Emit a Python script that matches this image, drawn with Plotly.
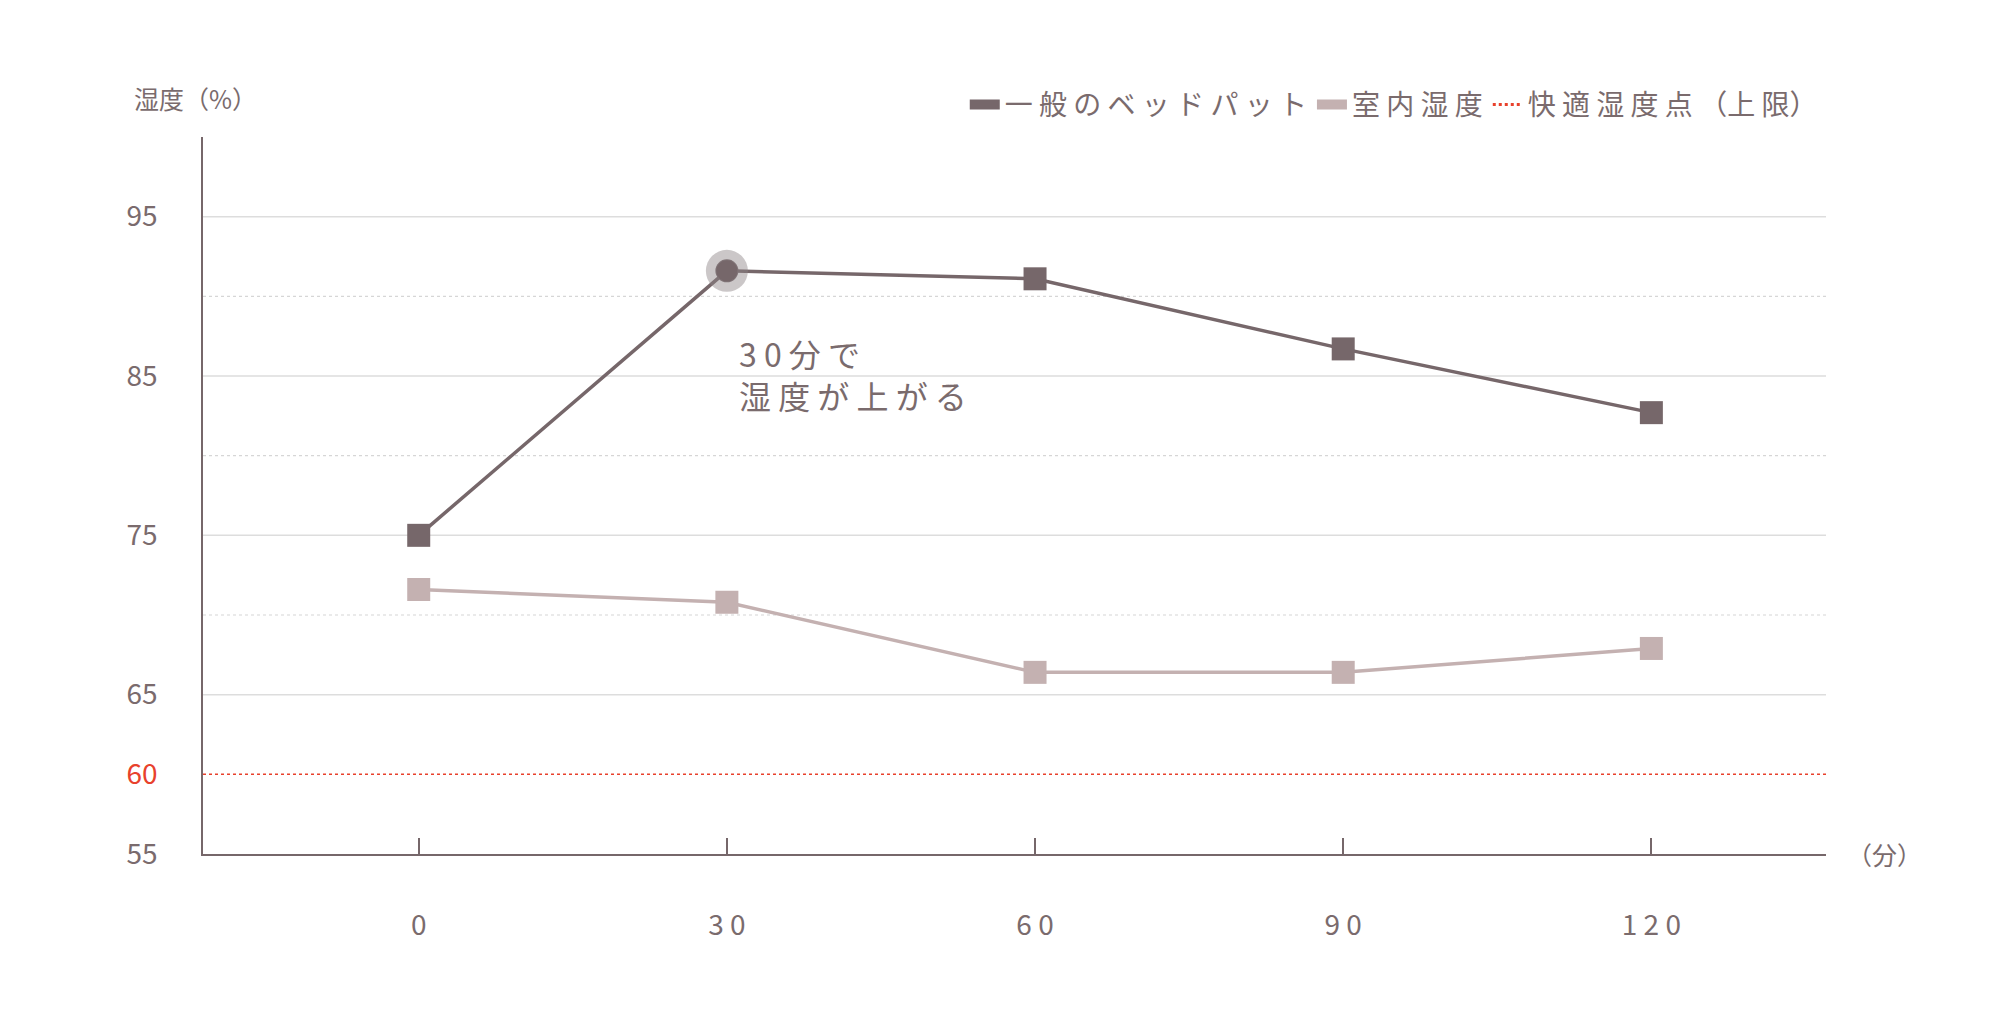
import plotly.graph_objects as go

minutes = [0, 30, 60, 90, 120]
bedpad = [75.0, 91.6, 91.1, 86.7, 82.7]
room = [71.6, 70.8, 66.4, 66.4, 67.9]
comfort_upper = 60
x_span = [-21, 137]
ytick_vals = [55, 60, 65, 75, 85, 95]

DARK = '#76676a'
LIGHT = '#c4b1b1'
RED = '#e8412c'
TXT = '#7a6b6d'
FONT = 'Noto Sans CJK JP'

fig = go.Figure()

# minor dotted grid lines
for v in [70, 80, 90]:
    fig.add_trace(go.Scatter(x=x_span, y=[v, v], mode='lines', showlegend=False,
        hoverinfo='skip', line=dict(color='#d6d6d6', width=1.2, dash='dot')))

fig.add_trace(go.Scatter(x=x_span, y=[comfort_upper]*2, mode='lines', showlegend=False,
    line=dict(color=RED, width=1.5, dash='dot')))

fig.add_trace(go.Scatter(x=minutes, y=room, mode='lines+markers', showlegend=False,
    line=dict(color=LIGHT, width=3.5), marker=dict(symbol='square', size=23, color=LIGHT)))

fig.add_trace(go.Scatter(x=minutes, y=bedpad, mode='lines+markers', showlegend=False,
    line=dict(color=DARK, width=3.5),
    marker=dict(symbol=['square', 'circle', 'square', 'square', 'square'], size=23, color=DARK)))

# highlight halo on the 30-minute point
fig.add_trace(go.Scatter(x=[minutes[1]], y=[bedpad[1]], mode='markers', showlegend=False,
    marker=dict(size=42, color='rgba(140,130,132,0.45)')))
fig.add_trace(go.Scatter(x=[minutes[1]], y=[bedpad[1]], mode='markers', showlegend=False,
    marker=dict(size=21, color=DARK)))

# legend entries
for name, color, dash in [('一 般 の ベ ッ ド パ ッ ト', DARK, 'solid'), ('室 内 湿 度', LIGHT, 'solid'),
                          ('快 適 湿 度 点 （上 限）', RED, 'dot')]:
    fig.add_trace(go.Scatter(x=[None], y=[None], mode='lines', name=name,
        line=dict(color=color, width=10 if dash == 'solid' else 3, dash=dash)))

fig.add_annotation(x=31, y=85.1, xref='x', yref='y', text='3 0 分 で<br>湿 度 が 上 が る',
    showarrow=False, xanchor='left', align='left',
    font=dict(size=32, color=TXT, family=FONT))
fig.add_annotation(x=-0.044, y=1.082, xref='x domain', yref='y domain', text='湿度（%）',
    showarrow=False, font=dict(size=25, color=TXT, family=FONT))
fig.add_annotation(x=1.012, y=0, xref='paper', yref='y domain', text='（分）', showarrow=False,
    xanchor='left', yanchor='middle', font=dict(size=25, color=TXT, family=FONT))

ytick_text = ['<span style="color:%s">%d</span>' % (RED, v) if v == comfort_upper else str(v)
              for v in ytick_vals]

fig.update_layout(
    width=2000, height=1032, plot_bgcolor='white', paper_bgcolor='white',
    margin=dict(l=195, r=182, t=129, b=186),
    font=dict(family=FONT, color=TXT, size=28),
    legend=dict(orientation='h', x=0.998, xanchor='right', y=1.01, yanchor='bottom',
                font=dict(size=28, color=TXT), tracegroupgap=40),
    xaxis=dict(range=x_span, tickvals=minutes, ticktext=['0', '3 0', '6 0', '9 0', '1 2 0'],
               ticks='inside', ticklen=16, tickcolor=DARK,
               tickwidth=1.5, showgrid=False, zeroline=False, showline=True,
               linecolor=DARK, linewidth=2, ticklabelstandoff=45),
    yaxis=dict(range=[55, 100], tickvals=ytick_vals, ticktext=ytick_text, showgrid=False,
               zeroline=False, showline=True,
               linecolor=DARK, linewidth=1.5, ticks='', ticklabelstandoff=38),
)
for v in [65, 75, 85, 95]:
    fig.add_shape(type='line', xref='x', yref='y', x0=x_span[0], x1=x_span[1], y0=v, y1=v,
                  line=dict(color='#dddddd', width=1.5), layer='below')

fig.write_html('out.html')
